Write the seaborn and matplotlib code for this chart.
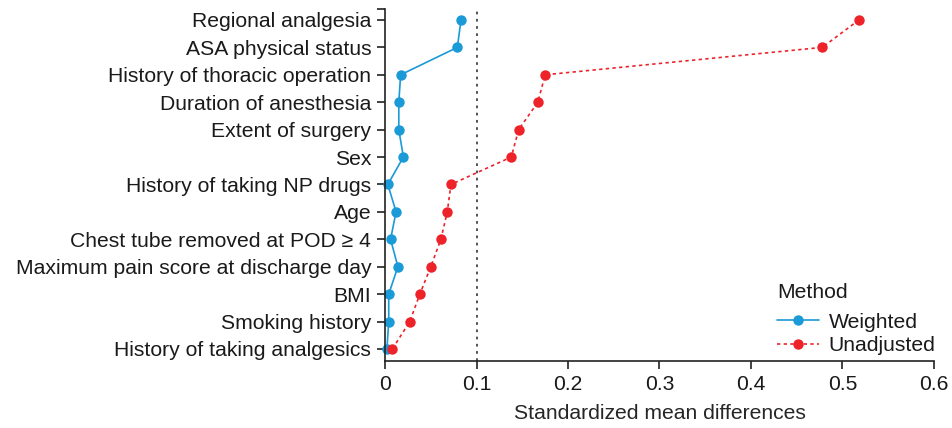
import matplotlib
matplotlib.use("Agg")
import matplotlib.pyplot as plt
import pandas as pd
import seaborn as sns
import numpy as np

covariates = [
    "Regional analgesia",
    "ASA physical status",
    "History of thoracic operation",
    "Duration of anesthesia",
    "Extent of surgery",
    "Sex",
    "History of taking NP drugs",
    "Age",
    "Chest tube removed at POD \u2265 4",
    "Maximum pain score at discharge day",
    "BMI",
    "Smoking history",
    "History of taking analgesics",
]
weighted = [0.083, 0.079, 0.017, 0.015, 0.015, 0.020, 0.003,
            0.012, 0.006, 0.014, 0.004, 0.004, 0.002]
unadjusted = [0.518, 0.478, 0.175, 0.167, 0.146, 0.138, 0.072,
              0.068, 0.061, 0.050, 0.038, 0.027, 0.008]
x_ticks = [0, 0.1, 0.2, 0.3, 0.4, 0.5, 0.6]
x_tick_labels = ["0", "0.1", "0.2", "0.3", "0.4", "0.5", "0.6"]

sns.set_style("ticks")
plt.rcParams['font.family'] = ['Liberation Sans', 'DejaVu Sans']

pos = np.arange(len(covariates))
df = pd.concat([
    pd.DataFrame({"smd": weighted, "pos": pos, "Method": "Weighted"}),
    pd.DataFrame({"smd": unadjusted, "pos": pos, "Method": "Unadjusted"}),
])

colors = {"Weighted": "#1a9ad6", "Unadjusted": "#ee2229"}
fs = 15.2

fig = plt.figure(figsize=(9.52, 4.28), dpi=100)
ax = fig.add_axes([0.4045, 0.1565, 0.5765, 0.8225])

sns.lineplot(data=df, x="smd", y="pos", hue="Method", style="Method",
             palette=colors, dashes={"Weighted": "", "Unadjusted": (2, 2)},
             markers={"Weighted": "o", "Unadjusted": "o"},
             markersize=7.5, markeredgewidth=0, linewidth=1.2,
             estimator=None, sort=False, ax=ax)
for ln in ax.lines:
    ln.set_clip_on(False)

# reference line at 0.1
ax.axvline(0.1, color="#444444", linestyle=(0, (1.5, 2.5)), linewidth=1.3, zorder=0)

ax.set_xlim(0, 0.6)
ax.set_ylim(len(covariates) - 1 + 0.44, -0.4)
ax.set_yticks(pos)
ax.set_yticklabels(covariates)
ax.set_yticks([-0.4], minor=True)
ax.set_xticks(x_ticks)
ax.set_xticklabels(x_tick_labels)
ax.set_xlabel("Standardized mean differences", fontsize=fs, labelpad=7)
ax.set_ylabel("")
ax.tick_params(axis="both", labelsize=fs, length=6, width=1.2, color="#222222",
               labelcolor="#1a1a1a", pad=4)
ax.tick_params(axis="y", which="minor", length=6, width=1.2, color="#222222")
for side in ["top", "right"]:
    ax.spines[side].set_visible(False)
for side in ["left", "bottom"]:
    ax.spines[side].set_linewidth(1.2)
    ax.spines[side].set_color("#222222")

leg = ax.legend(title="Method", loc="lower right", bbox_to_anchor=(1.03, -0.025),
                frameon=False, fontsize=fs, title_fontsize=fs,
                handlelength=2.0, handletextpad=0.45, labelspacing=0.2,
                borderaxespad=0.3)
leg._legend_box.align = "left"
leg._legend_box.sep = 8
leg.get_title().set_color("#1a1a1a")
for t in leg.get_texts():
    t.set_color("#1a1a1a")

fig.savefig("out.png", dpi=100)
